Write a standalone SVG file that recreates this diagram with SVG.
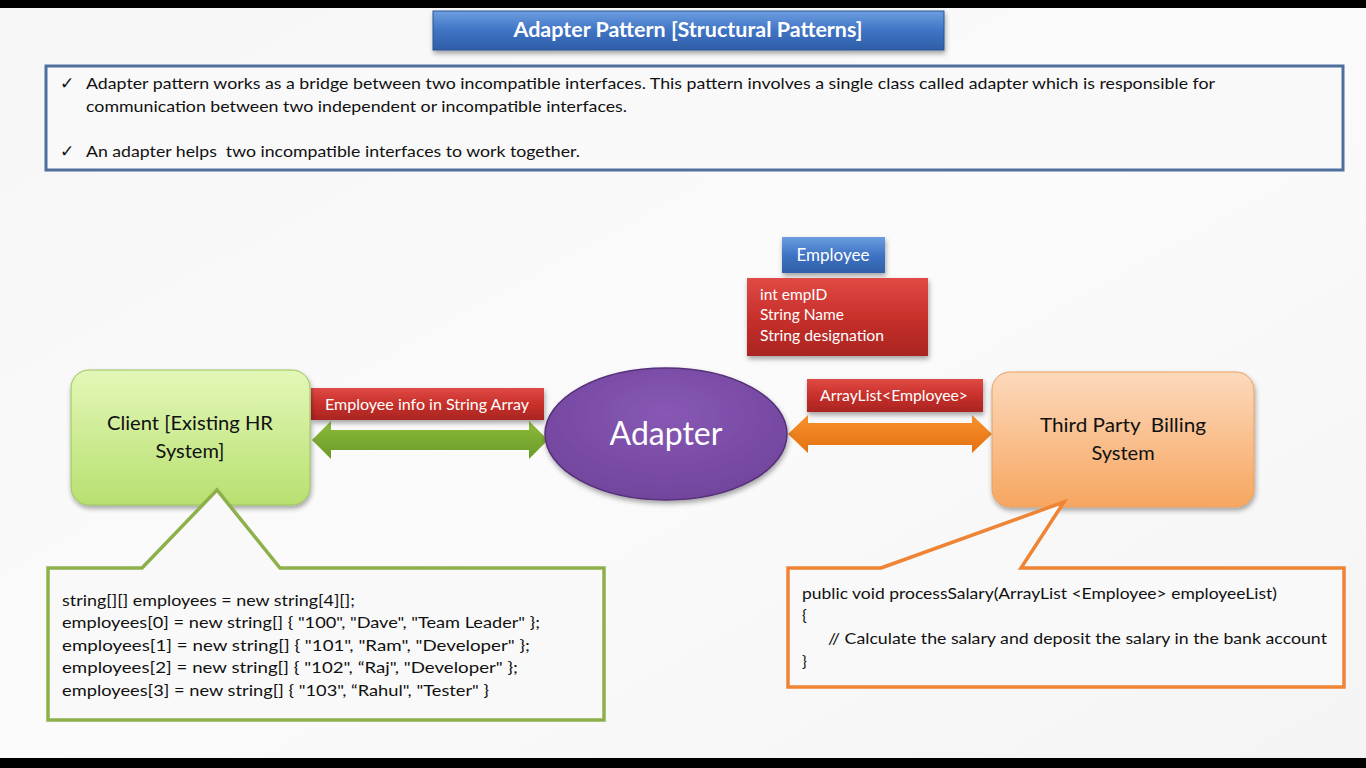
<svg xmlns="http://www.w3.org/2000/svg" width="1366" height="768" viewBox="0 0 1366 768">
<defs>
<linearGradient id="bg" x1="0" y1="0" x2="1" y2="1"><stop offset="0" stop-color="#f6f6f6"/><stop offset="0.5" stop-color="#fbfbfb"/><stop offset="1" stop-color="#f4f4f4"/></linearGradient>
<linearGradient id="blue" x1="0" y1="0" x2="0" y2="1"><stop offset="0" stop-color="#6d9ee0"/><stop offset="0.5" stop-color="#3f74c4"/><stop offset="1" stop-color="#2f5ea8"/></linearGradient>
<linearGradient id="red" x1="0" y1="0" x2="0" y2="1"><stop offset="0" stop-color="#e04a45"/><stop offset="0.5" stop-color="#c8302b"/><stop offset="1" stop-color="#a92521"/></linearGradient>
<linearGradient id="green" x1="0" y1="0" x2="0" y2="1"><stop offset="0" stop-color="#e3f7b8"/><stop offset="1" stop-color="#b8e070"/></linearGradient>
<linearGradient id="orange" x1="0" y1="0" x2="0" y2="1"><stop offset="0" stop-color="#fcd9bc"/><stop offset="1" stop-color="#f7a660"/></linearGradient>
<linearGradient id="garrow" x1="0" y1="0" x2="0" y2="1"><stop offset="0" stop-color="#8cbb3c"/><stop offset="1" stop-color="#6a9a28"/></linearGradient>
<linearGradient id="oarrow" x1="0" y1="0" x2="0" y2="1"><stop offset="0" stop-color="#f8922e"/><stop offset="1" stop-color="#e4700f"/></linearGradient>
<radialGradient id="purple" cx="0.5" cy="0.35" r="0.7"><stop offset="0" stop-color="#8758b4"/><stop offset="1" stop-color="#70439b"/></radialGradient>
<filter id="sh" x="-10%" y="-10%" width="130%" height="140%"><feDropShadow dx="1" dy="3" stdDeviation="2.5" flood-color="#000" flood-opacity="0.35"/></filter>
</defs>
<style>
.t{font-family:Lato,"Liberation Sans",sans-serif;}
.w{fill:#ffffff;}
.k{fill:#111111;}
.chk{font-family:"DejaVu Sans",sans-serif;fill:#111111;font-size:17px;}
.callout{fill:#f9f9f9;stroke-width:3.5;stroke-linejoin:miter;}
</style>
<rect x="0" y="0" width="1366" height="768" fill="url(#bg)"/>
<rect x="0" y="0" width="1366" height="8" fill="#000"/>
<rect x="0" y="758" width="1366" height="10" fill="#000"/>

<g id="title">
<rect x="433" y="11" width="511" height="39" fill="url(#blue)" stroke="#2a5494" stroke-width="1" filter="url(#sh)"/>
<text class="t w" x="688" y="37" font-size="20" font-weight="bold" text-anchor="middle" textLength="349" lengthAdjust="spacingAndGlyphs">Adapter Pattern [Structural Patterns]</text>
</g>

<g id="info">
<rect x="46" y="66" width="1297" height="104" fill="#f9f9f9" stroke="#4f6f9f" stroke-width="3"/>
<text class="chk" x="60" y="89">✓</text>
<text class="t k" x="86" y="89" font-size="16" textLength="1129" lengthAdjust="spacingAndGlyphs">Adapter pattern works as a bridge between two incompatible interfaces. This pattern involves a single class called adapter which is responsible for</text>
<text class="t k" x="86" y="112" font-size="16" textLength="541" lengthAdjust="spacingAndGlyphs">communication between two independent or incompatible interfaces.</text>
<text class="chk" x="60" y="157">✓</text>
<text class="t k" x="86" y="157" font-size="16" textLength="494" lengthAdjust="spacingAndGlyphs" xml:space="preserve">An adapter helps  two incompatible interfaces to work together.</text>
</g>

<g id="employee">
<rect x="782" y="237" width="103" height="36" fill="url(#blue)" filter="url(#sh)"/>
<text class="t w" x="833" y="261" font-size="17" text-anchor="middle">Employee</text>
</g>
<g id="employee-fields">
<rect x="747" y="278" width="181" height="78" fill="url(#red)" filter="url(#sh)"/>
<text class="t w" x="760" y="300" font-size="15.5">int empID</text>
<text class="t w" x="760" y="320" font-size="15.5">String Name</text>
<text class="t w" x="760" y="341" font-size="15.5" textLength="124" lengthAdjust="spacingAndGlyphs">String designation</text>
</g>

<g id="connectors">
<path d="M312,440 L331,421 L331,430 L529,430 L529,421 L548,440 L529,459 L529,450 L331,450 L331,459 Z" fill="url(#garrow)"/>
<path d="M788,434 L808,415 L808,423 L972,423 L972,415 L992,434 L972,453 L972,445 L808,445 L808,453 Z" fill="url(#oarrow)"/>
</g>

<g id="label-string-array">
<rect x="311" y="388" width="233" height="32" fill="url(#red)" filter="url(#sh)"/>
<text class="t w" x="427" y="410" font-size="16" text-anchor="middle" textLength="204" lengthAdjust="spacingAndGlyphs">Employee info in String Array</text>
</g>
<g id="label-arraylist">
<rect x="807" y="379" width="176" height="33" fill="url(#red)" filter="url(#sh)"/>
<text class="t w" x="894" y="401" font-size="16" text-anchor="middle" textLength="148" lengthAdjust="spacingAndGlyphs">ArrayList&lt;Employee&gt;</text>
</g>

<g id="client">
<rect x="71" y="370" width="239" height="135" rx="18" fill="url(#green)" stroke="#9cc25a" stroke-width="1" filter="url(#sh)"/>
<text class="t k" x="190" y="430" font-size="20" text-anchor="middle" textLength="166" lengthAdjust="spacingAndGlyphs">Client [Existing HR</text>
<text class="t k" x="190" y="458" font-size="20" text-anchor="middle">System]</text>
</g>

<g id="adapter">
<ellipse cx="666" cy="434" rx="121" ry="66" fill="url(#purple)" stroke="#56307a" stroke-width="1.5" filter="url(#sh)"/>
<text class="t w" x="666" y="445" font-size="32" text-anchor="middle">Adapter</text>
</g>

<g id="billing">
<rect x="992" y="372" width="262" height="135" rx="18" fill="url(#orange)" stroke="#e8a060" stroke-width="1" filter="url(#sh)"/>
<text class="t k" x="1123" y="432" font-size="20" text-anchor="middle" xml:space="preserve" textLength="166" lengthAdjust="spacingAndGlyphs">Third Party  Billing</text>
<text class="t k" x="1123" y="460" font-size="20" text-anchor="middle">System</text>
</g>

<g id="client-code">
<path class="callout" d="M142,568 L217,490 L280,568 L604,568 L604,720 L48,720 L48,568 Z" stroke="#8db04a"/>
<text class="t k" x="62" y="606" font-size="16" textLength="293" lengthAdjust="spacingAndGlyphs">string[][] employees = new string[4][];</text>
<text class="t k" x="62" y="628" font-size="16" textLength="478" lengthAdjust="spacingAndGlyphs">employees[0] = new string[] { "100", "Dave", "Team Leader" };</text>
<text class="t k" x="62" y="651" font-size="16" textLength="468" lengthAdjust="spacingAndGlyphs">employees[1] = new string[] { "101", "Ram", "Developer" };</text>
<text class="t k" x="62" y="673" font-size="16" textLength="456" lengthAdjust="spacingAndGlyphs">employees[2] = new string[] { "102", “Raj", "Developer" };</text>
<text class="t k" x="62" y="696" font-size="16" textLength="427" lengthAdjust="spacingAndGlyphs">employees[3] = new string[] { "103", “Rahul", "Tester" }</text>
</g>

<g id="billing-code">
<path class="callout" d="M881,568 L1064,502 L1021,568 L1344,568 L1344,687 L788,687 L788,568 Z" stroke="#ee8434"/>
<text class="t k" x="802" y="599" font-size="16" textLength="475" lengthAdjust="spacingAndGlyphs">public void processSalary(ArrayList &lt;Employee&gt; employeeList)</text>
<text class="t k" x="802" y="621" font-size="16">{</text>
<text class="t k" x="828" y="644" font-size="16" textLength="499" lengthAdjust="spacingAndGlyphs">// Calculate the salary and deposit the salary in the bank account</text>
<text class="t k" x="802" y="667" font-size="16">}</text>
</g>
</svg>
